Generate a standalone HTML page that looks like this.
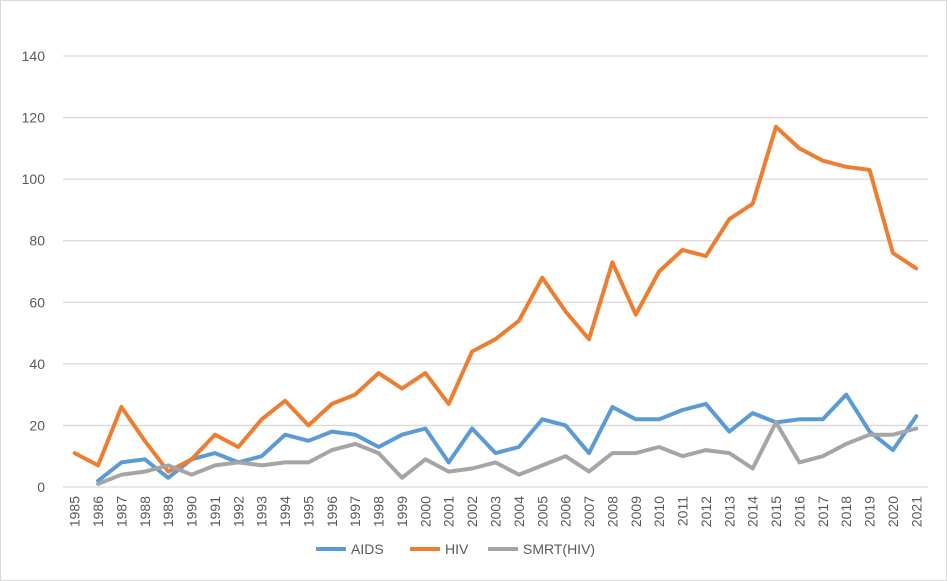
<!DOCTYPE html>
<html><head><meta charset="utf-8"><style>
body{margin:0;background:#fff;font-family:"Liberation Sans",sans-serif}
svg{display:block}
</style></head><body>
<svg width="947" height="581">
<rect x="0.5" y="0.5" width="946" height="580" fill="#fff" stroke="#d9d9d9"/>
<g id="grid"></g><g id="yt"></g><g id="xt"></g><g id="series"></g>
<g font-size="14" fill="#595959">
<g><line x1="316" y1="549" x2="346" y2="549" stroke="#5b9bd5" stroke-width="4"/><text x="351" y="554">AIDS</text></g>
<g><line x1="410" y1="549" x2="440" y2="549" stroke="#ed7d31" stroke-width="4"/><text x="445" y="554">HIV</text></g>
<g><line x1="488" y1="549" x2="518" y2="549" stroke="#a5a5a5" stroke-width="4"/><text x="523" y="554">SMRT(HIV)</text></g>
</g>
</svg>
<script>
const years=[];for(let y=1985;y<=2021;y++)years.push(String(y));
const hiv=[11,7,26,15,5,9,17,13,22,28,20,27,30,37,32,37,27,44,48,54,68,57,48,73,56,70,77,75,87,92,117,110,106,104,103,76,71];
const aids=[null,2,8,9,3,9,11,8,10,17,15,18,17,13,17,19,8,19,11,13,22,20,11,26,22,22,25,27,18,24,21,22,22,30,18,12,23];
const smrt=[null,1,4,5,7,4,7,8,7,8,8,12,14,11,3,9,5,6,8,4,7,10,5,11,11,13,10,12,11,6,21,8,10,14,17,17,19];
const yTicks=[0,20,40,60,80,100,120,140];
const L=63,R=928,T=56,B=487,yMax=140;
const bw=(R-L)/years.length;
const xs=i=>L+bw*(i+0.5);
const ys=v=>B-(v/yMax)*(B-T);
const NS="http://www.w3.org/2000/svg";
function mk(t,a,p){const e=document.createElementNS(NS,t);for(const k in a)e.setAttribute(k,a[k]);p.appendChild(e);return e;}
const g=document.getElementById('grid'),yt=document.getElementById('yt'),xt=document.getElementById('xt'),s=document.getElementById('series');
yTicks.forEach(v=>{
 const l=mk('line',{x1:L,x2:R,y1:ys(v),y2:ys(v),stroke:'#d9d9d9','stroke-width':1.3},g);
 
 
 const t=mk('text',{x:45,y:ys(v)+5,'text-anchor':'end','font-size':14,fill:'#595959'},yt);
 t.textContent=v;
 
 
});
years.forEach((y,i)=>{
 const t=mk('text',{transform:`translate(${xs(i)+5},496) rotate(-90)`,'text-anchor':'end','font-size':14,fill:'#595959'},xt);
 t.textContent=y;
 
 
});
function line(d,c,n){
 let p='';d.forEach((v,i)=>{if(v==null)return;p+=(p?'L':'M')+xs(i).toFixed(1)+','+ys(v).toFixed(1);});
 const e=mk('path',{d:p,fill:'none',stroke:c,'stroke-width':4,'stroke-linejoin':'round','stroke-linecap':'round'},s);
 
 
}
line(aids,'#5b9bd5','series-aids');
line(hiv,'#ed7d31','series-hiv');
line(smrt,'#a5a5a5','series-smrt-hiv');
</script>
</body></html>
